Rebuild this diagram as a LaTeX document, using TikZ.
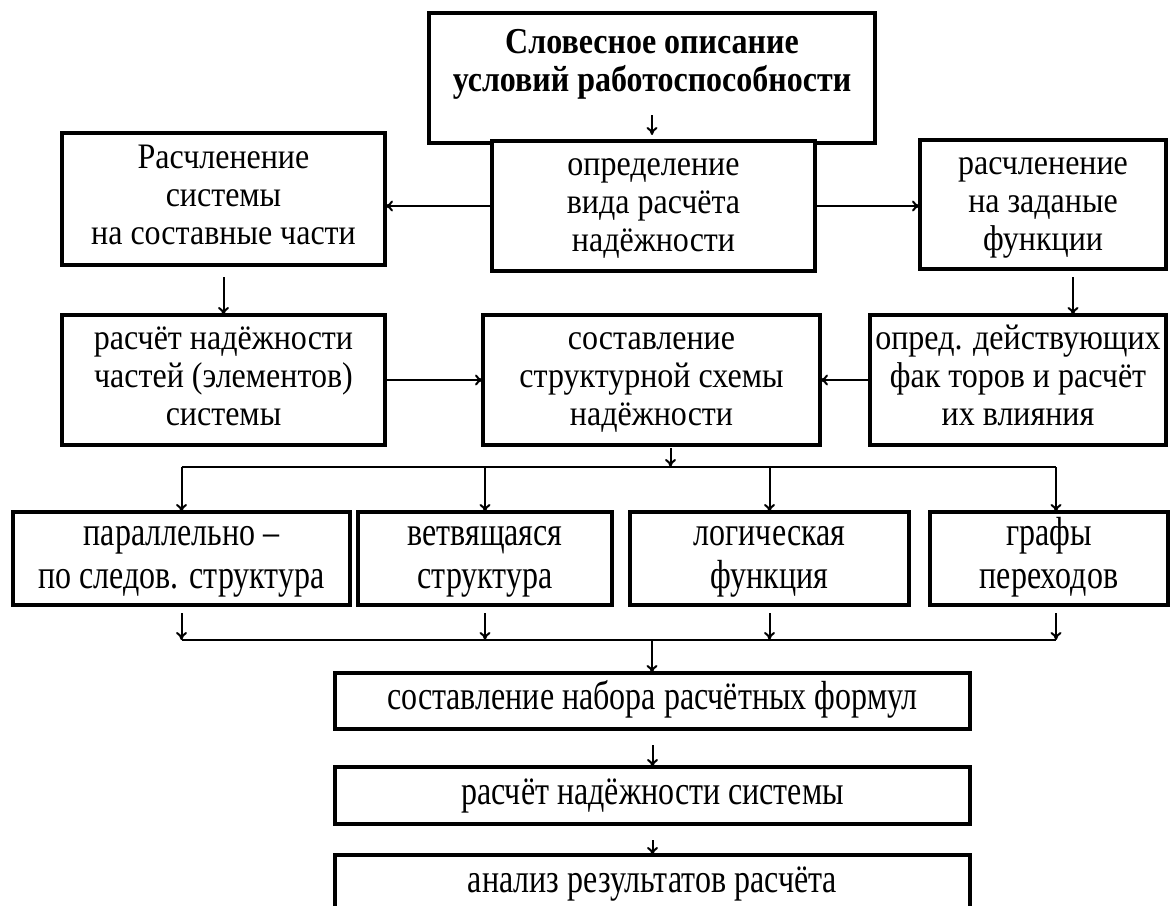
\documentclass[tikz,border=0pt]{standalone}
\usepackage{fontspec}
\setmainfont{Liberation Serif}
\usepackage{graphicx}
\usetikzlibrary{arrows.meta}
\tikzset{
  block/.style={
    draw=black,
    line width=4pt,
    fill=white,
    inner sep=0pt,
    outer sep=0pt,
    align=center,
    font=\fontsize{32}{34}\selectfont
  },
  title-text/.style={align=center, inner sep=0pt, font=\bfseries\fontsize{32}{33}\selectfont},
  link/.style={line width=2pt},
  link-arrow/.style={link, -{To[length=8pt,width=11pt]}}
}
\newcommand{\tallbox}[2]{\scalebox{1}[#1]{\begin{tabular}{@{}c@{}}#2\end{tabular}}}

\begin{document}
\begin{tikzpicture}[x=1pt,y=-1pt]
  \useasboundingbox (0,0) rectangle (1170,905);
  \clip (0,0) rectangle (1170,905);
  % Title
  \node[block, minimum width=446pt, minimum height=130pt] (title) at (652,78) {};
  \node[title-text] (title-label) at (652,65) {\tallbox{1.14}{Словесное описание\\условий работоспособности}};
  % First row
  \node[block, minimum width=323pt, minimum height=130pt] (define) at (653.5,206) {\tallbox{1.12}{определение\\вида расчёта\\надёжности}};
  \node[block, minimum width=323pt, minimum height=132pt] (split) at (223.5,199) {\tallbox{1.12}{Расчленение\\системы\\на составные части}};
  \node[block, minimum width=246pt, minimum height=129pt] (func) at (1043,204.5) {\tallbox{1.12}{расчленение\\на заданые\\функции}};
  % Second row
  \node[block, minimum width=323pt, minimum height=130pt] (parts) at (223.5,380) {\tallbox{1.12}{расчёт надёжности\\частей (элементов)\\системы}};
  \node[block, minimum width=337pt, minimum height=130pt] (scheme) at (651.5,380) {\tallbox{1.12}{составление\\структурной схемы\\надёжности}};
  \node[block, minimum width=296pt, minimum height=130pt] (factors) at (1018,380) {\tallbox{1.12}{опред. действующих\\фак торов и расчёт\\их влияния}};
  % Structure types
  \node[block, minimum width=337pt, minimum height=93pt] (parallel) at (181.5,558.5) {\tallbox{1.27}{параллельно –\\по следов. структура}};
  \node[block, minimum width=254pt, minimum height=93pt] (branch) at (485,558.5) {\tallbox{1.27}{ветвящаяся\\структура}};
  \node[block, minimum width=279pt, minimum height=93pt] (logic) at (769.5,558.5) {\tallbox{1.27}{логическая\\функция}};
  \node[block, minimum width=238pt, minimum height=93pt] (graphs) at (1049,558.5) {\tallbox{1.27}{графы\\переходов}};
  % Final steps
  \node[block, minimum width=635pt, minimum height=56pt] (formulas) at (652.5,701) {\tallbox{1.27}{составление набора расчётных формул}};
  \node[block, minimum width=635pt, minimum height=57pt] (system) at (652.5,795.5) {\tallbox{1.27}{расчёт надёжности системы}};
  \node[block, minimum width=635pt, minimum height=57pt] (analysis) at (652.5,883.5) {\tallbox{1.27}{анализ результатов расчёта}};

  % Edges
  \draw[link-arrow] ([yshift=28pt]title.south) -- ([yshift=8pt]title.south);
  \draw[link-arrow] (define.west) -- (define.west -| split.east);
  \draw[link-arrow] (define.east) -- (define.east -| func.west);
  \draw[link-arrow] ([yshift=-12pt]split.south) -- (split.south |- parts.north);
  \draw[link-arrow] ([xshift=30pt,yshift=-8pt]func.south) -- ([xshift=30pt]func.south |- factors.north);
  \draw[link-arrow] (parts.east) -- (parts.east -| scheme.west);
  \draw[link-arrow] (factors.west) -- (factors.west -| scheme.east);
  % Buses
  \coordinate (bus-top) at (652,467);
  \coordinate (bus-bottom) at (652,640);
  \draw[link-arrow] ([xshift=19pt,yshift=-3pt]scheme.south) -- ([xshift=19pt]scheme.south |- bus-top);
  \draw[link] (parallel.north |- bus-top) -- ([xshift=7pt]graphs.north |- bus-top);
  \foreach \n in {parallel,branch,logic}
    \draw[link-arrow] (\n.north |- bus-top) -- (\n.north);
  \draw[link-arrow] ([xshift=7pt]graphs.north |- bus-top) -- ([xshift=7pt]graphs.north);
  \foreach \n in {parallel,branch,logic}
    \draw[link-arrow] ([yshift=-8pt]\n.south) -- (\n.south |- bus-bottom);
  \draw[link-arrow] ([xshift=7pt,yshift=-8pt]graphs.south) -- ([xshift=7pt]graphs.south |- bus-bottom);
  \draw[link] (parallel.south |- bus-bottom) -- ([xshift=7pt]graphs.south |- bus-bottom);
  % Down to the end
  \draw[link-arrow] (bus-bottom) -- (bus-bottom |- formulas.north);
  \draw[link-arrow] ([yshift=-16pt]formulas.south) -- (formulas.south |- system.north);
  \draw[link-arrow] ([yshift=-16pt]system.south) -- (system.south |- analysis.north);
\end{tikzpicture}
\end{document}
